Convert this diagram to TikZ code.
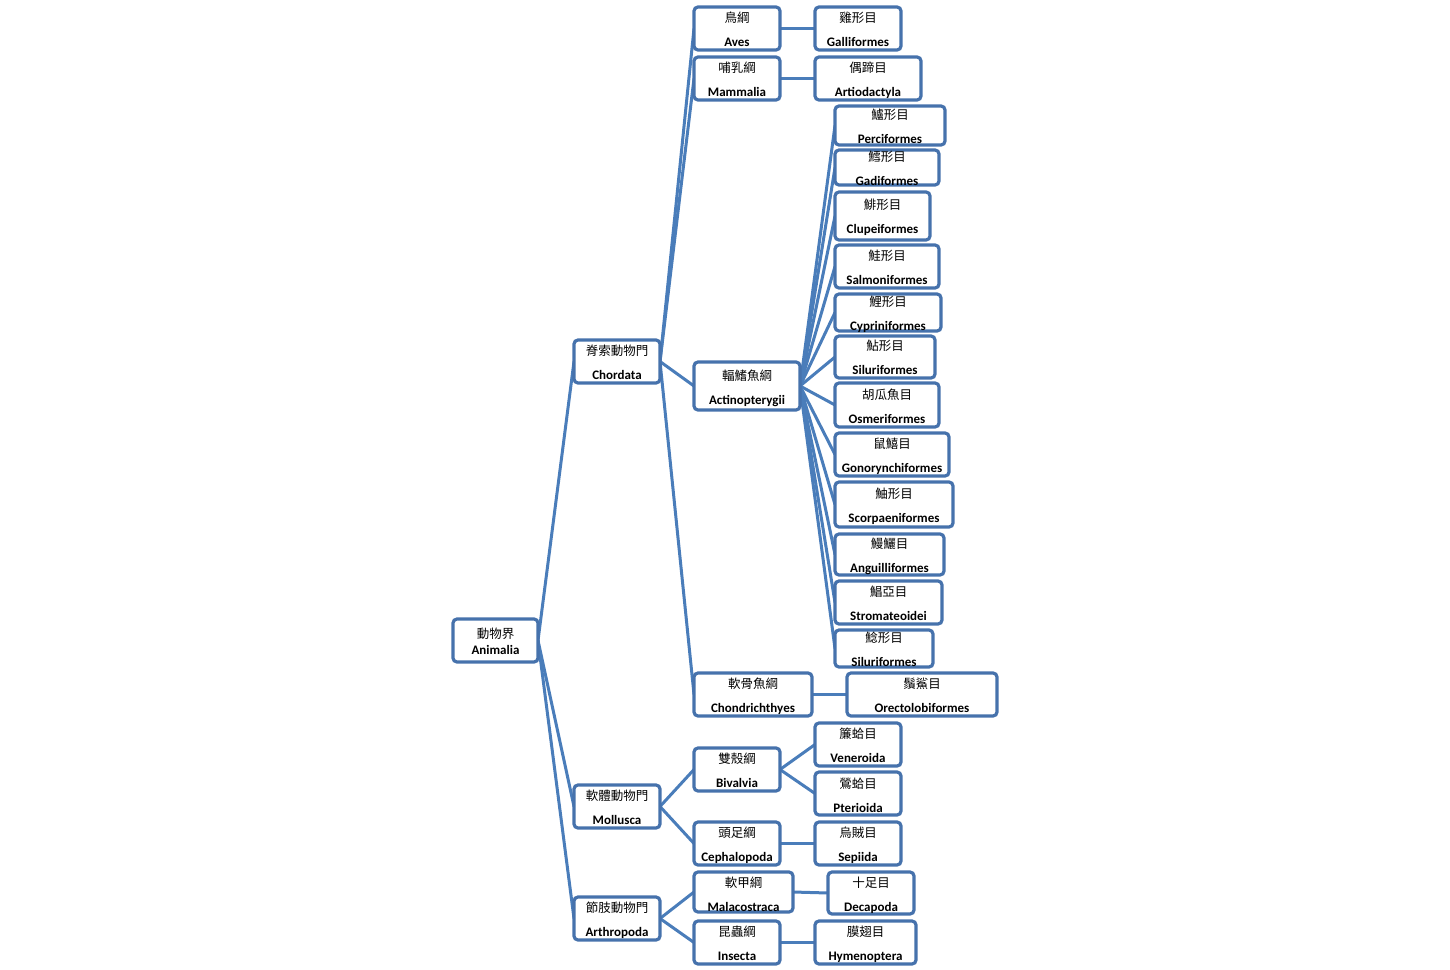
\documentclass[tikz,border=0pt]{standalone}
\usepackage{fontspec}
\setmainfont{Carlito}
\newfontfamily\cjkfont{Noto Sans CJK TC}
\usetikzlibrary{backgrounds}
\definecolor{boxblue}{RGB}{70,114,172}
\definecolor{lineblue}{RGB}{74,125,186}
\tikzset{
  taxbox/.style={draw=boxblue, line width=3.2pt, rounded corners=4pt, fill=white, inner sep=0pt, outer sep=0pt, anchor=north west},
  cjktext/.style={inner sep=0pt, anchor=base, font=\cjkfont\fontsize{12.5}{14}\selectfont},
  lattext/.style={inner sep=0pt, anchor=base, font=\bfseries\fontsize{13}{15}\selectfont},
  link/.style={draw=lineblue, line width=3pt}
}
\newcommand{\taxon}[9]{%
  \node[taxbox, minimum width={#4-#2}, minimum height={#5-#3}] (#1) at (#2,#3) {};
  \node[cjktext] (#1c) at ({(#2+#4)/2},{#6+5.4}) {#8};
  \node[lattext] (#1l) at ({(#2+#4)/2},{#7+5.2}) {#9};
}
\begin{document}
\begin{tikzpicture}[x=1pt,y=-1pt]
\useasboundingbox (0,0) rectangle (1450,969);
\taxon{anim}{453}{619}{538}{662}{633}{649}{動物界}{Animalia}
\taxon{chor}{574}{340}{660}{383}{350}{374}{脊索動物門}{Chordata}
\taxon{moll}{574}{785}{660}{828}{795}{819}{軟體動物門}{Mollusca}
\taxon{arth}{574}{897}{660}{940}{907}{931}{節肢動物門}{Arthropoda}
\taxon{aves}{694}{7}{780}{50}{17}{41}{鳥綱}{Aves}
\taxon{mamm}{694}{57}{780}{100}{67}{91}{哺乳綱}{Mammalia}
\taxon{acti}{694}{362}{800}{410}{375}{399}{輻鰭魚綱}{Actinopterygii}
\taxon{chon}{694}{673}{812}{716}{683}{707}{軟骨魚綱}{Chondrichthyes}
\taxon{biva}{694}{748}{780}{791}{758}{782}{雙殼綱}{Bivalvia}
\taxon{ceph}{694}{822}{780}{865}{832}{856}{頭足綱}{Cephalopoda}
\taxon{mala}{694}{872}{793}{912}{882}{906}{軟甲綱}{Malacostraca}
\taxon{inse}{694}{921}{780}{964}{931}{955}{昆蟲綱}{Insecta}
\taxon{gall}{815}{7}{901}{50}{17}{41}{雞形目}{Galliformes}
\taxon{arti}{815}{57}{921}{100}{67}{91}{偶蹄目}{Artiodactyla}
\taxon{perc}{835}{106}{945}{145}{114}{138}{鱸形目}{Perciformes}
\taxon{gadi}{835}{150}{939}{185}{156}{180}{鱈形目}{Gadiformes}
\taxon{clup}{835}{192}{930}{240}{204}{228}{鯡形目}{Clupeiformes}
\taxon{salm}{835}{245}{939}{288}{255}{279}{鮭形目}{Salmoniformes}
\taxon{cypr}{835}{294}{941}{331}{301}{325}{鯉形目}{Cypriniformes}
\taxon{silA}{835}{336}{935}{378}{345}{369}{鮎形目}{Siluriformes}
\taxon{osme}{835}{383}{939}{427}{394}{418}{胡瓜魚目}{Osmeriformes}
\taxon{gono}{835}{433}{949}{476}{443}{467}{鼠鱚目}{Gonorynchiformes}
\taxon{scor}{835}{482}{953}{527}{493}{517}{鮋形目}{Scorpaeniformes}
\taxon{angu}{835}{534}{944}{575}{543}{567}{鰻鱺目}{Anguilliformes}
\taxon{stro}{835}{581}{942}{624}{591}{615}{鯧亞目}{Stromateoidei}
\taxon{silB}{835}{630}{933}{667}{637}{661}{鯰形目}{Siluriformes}
\taxon{orec}{847}{673}{997}{716}{683}{707}{鬚鯊目}{Orectolobiformes}
\taxon{vene}{815}{723}{901}{766}{733}{757}{簾蛤目}{Veneroida}
\taxon{pter}{815}{772}{901}{815}{783}{807}{鶯蛤目}{Pterioida}
\taxon{sepi}{815}{822}{901}{865}{832}{856}{烏賊目}{Sepiida}
\taxon{deca}{828}{872}{914}{914}{882}{906}{十足目}{Decapoda}
\taxon{hyme}{815}{921}{916}{964}{931}{955}{膜翅目}{Hymenoptera}
\begin{scope}[on background layer]
\foreach \c in {chor,moll,arth} \draw[link] (anim.east) -- (\c.west);
\foreach \c in {aves,mamm,acti,chon} \draw[link] (chor.east) -- (\c.west);
\foreach \c in {perc,gadi,clup,salm,cypr,silA,osme,gono,scor,angu,stro,silB} \draw[link] (acti.east) -- (\c.west);
\draw[link] (aves.east) -- (gall.west);
\draw[link] (mamm.east) -- (arti.west);
\draw[link] (chon.east) -- (orec.west);
\foreach \c in {biva,ceph} \draw[link] (moll.east) -- (\c.west);
\foreach \c in {vene,pter} \draw[link] (biva.east) -- (\c.west);
\draw[link] (ceph.east) -- (sepi.west);
\foreach \c in {mala,inse} \draw[link] (arth.east) -- (\c.west);
\draw[link] (mala.east) -- (deca.west);
\draw[link] (inse.east) -- (hyme.west);
\end{scope}
\end{tikzpicture}
\end{document}
